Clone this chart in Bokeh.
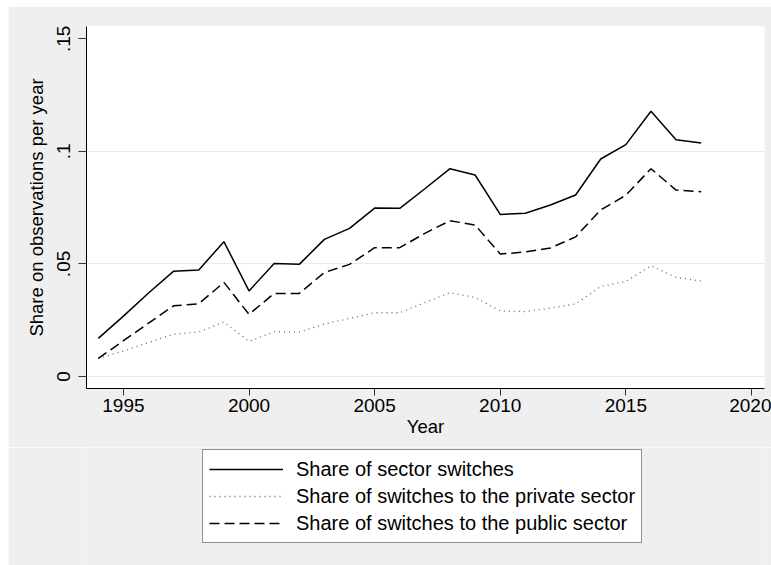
from bokeh.plotting import figure
from bokeh.models import FixedTicker, Legend, LegendItem, Range1d, Spacer
from bokeh.layouts import column, row
from bokeh.embed import file_html
from bokeh.resources import INLINE

years = list(range(1994, 2019))
sector_switches = [0.0169, 0.0268, 0.0371, 0.0468, 0.0473, 0.0599, 0.0380, 0.0502, 0.0498,
                   0.0609, 0.0658, 0.0748, 0.0747, 0.0834, 0.0923, 0.0895, 0.0720, 0.0725,
                   0.0762, 0.0806, 0.0966, 0.1030, 0.1178, 0.1052, 0.1037]
to_private = [0.0080, 0.0113, 0.0151, 0.0188, 0.0197, 0.0242, 0.0156, 0.0199, 0.0197,
              0.0233, 0.0258, 0.0283, 0.0283, 0.0328, 0.0372, 0.0351, 0.0291, 0.0288,
              0.0304, 0.0322, 0.0400, 0.0422, 0.0492, 0.0440, 0.0424]
to_public = [0.0080, 0.0159, 0.0237, 0.0314, 0.0323, 0.0418, 0.0276, 0.0369, 0.0369,
             0.0462, 0.0498, 0.0572, 0.0572, 0.0636, 0.0692, 0.0673, 0.0544, 0.0553,
             0.0571, 0.0620, 0.0740, 0.0805, 0.0923, 0.0828, 0.0821]

x_ticks = [1995, 2000, 2005, 2010, 2015, 2020]
y_ticks = [0, 0.05, 0.1, 0.15]
y_tick_labels = ["0", ".05", ".1", ".15"]
grid_values = [0, 0.05, 0.1]
series_labels = ["Share of sector switches",
                 "Share of switches to the private sector",
                 "Share of switches to the public sector"]

FONT = "Liberation Sans"
GRAY_BG = "#EFEFEF"
styles = [dict(line_color="black", line_width=1.5),
          dict(line_color="#666666", line_width=1.3, line_dash="1 4"),
          dict(line_color="black", line_width=1.5, line_dash="10 5")]
series = [sector_switches, to_private, to_public]

# ---- main chart ----
p = figure(width=763, height=441, output_backend="svg", toolbar_location=None,
           x_range=Range1d(1993.53, 2020.52), y_range=Range1d(-0.00534, 0.15547),
           min_border_left=78, min_border_top=20, min_border_right=7, min_border_bottom=59)
p.border_fill_color = GRAY_BG
p.background_fill_color = "white"
p.outline_line_color = None

for vals, st in zip(series, styles):
    p.line(years, vals, **st)

p.xaxis.ticker = FixedTicker(ticks=x_ticks)
p.yaxis.ticker = FixedTicker(ticks=y_ticks)
p.yaxis.major_label_overrides = {v: s for v, s in zip(y_ticks, y_tick_labels)}
p.yaxis.major_label_orientation = "vertical"
p.xaxis.axis_label = "Year"
p.yaxis.axis_label = "Share on observations per year"
for ax in (p.xaxis, p.yaxis):
    ax.axis_line_color = "black"
    ax.axis_line_width = 1
    ax.major_tick_line_color = "#333333"
    ax.major_tick_out = 7
    ax.major_tick_in = 0
    ax.minor_tick_line_color = None
    ax.major_label_text_font = FONT
    ax.major_label_text_font_size = "19px"
    ax.major_label_text_color = "black"
    ax.axis_label_text_font = FONT
    ax.axis_label_text_font_size = "18.5px"
    ax.axis_label_text_font_style = "normal"
    ax.axis_label_text_color = "black"
p.yaxis.major_tick_out = 8
p.xaxis.major_label_standoff = 3
p.xaxis.axis_label_standoff = 1
p.yaxis.major_label_standoff = 8
p.yaxis.axis_label_standoff = 8

p.xgrid.grid_line_color = None
p.ygrid.ticker = FixedTicker(ticks=grid_values)
p.ygrid.grid_line_color = "#E4EDF0"
p.ygrid.grid_line_width = 1.2

# ---- legend strip ----
p2 = figure(width=763, height=118, output_backend="svg", toolbar_location=None,
            x_range=Range1d(0, 1), y_range=Range1d(0, 1),
            x_axis_type=None, y_axis_type=None,
            min_border_left=0, min_border_right=0, min_border_top=0, min_border_bottom=0)
p2.border_fill_color = GRAY_BG
p2.background_fill_color = GRAY_BG
p2.outline_line_color = None
p2.grid.visible = False

legend_renderers = [p2.line(years, vals, **st) for vals, st in zip(series, styles)]

legend = Legend(items=[LegendItem(label=lab, renderers=[r])
                       for lab, r in zip(series_labels, legend_renderers)],
                location=(116, 22), orientation="vertical")
legend.label_text_font = FONT
legend.label_text_font_size = "20px"
legend.label_text_color = "black"
legend.glyph_width = 74
legend.glyph_height = 26
legend.label_height = 26
legend.label_standoff = 13
legend.spacing = 1
legend.padding = 6
legend.margin = 0
legend.border_line_color = "#222222"
legend.border_line_width = 1
legend.background_fill_color = "white"
legend.background_fill_alpha = 1
p2.add_layout(legend, "center")

layout = column(Spacer(width=771, height=6),
                row(Spacer(width=8, height=559), column(p, p2)))

open("out.html", "w").write(file_html(layout, INLINE))
